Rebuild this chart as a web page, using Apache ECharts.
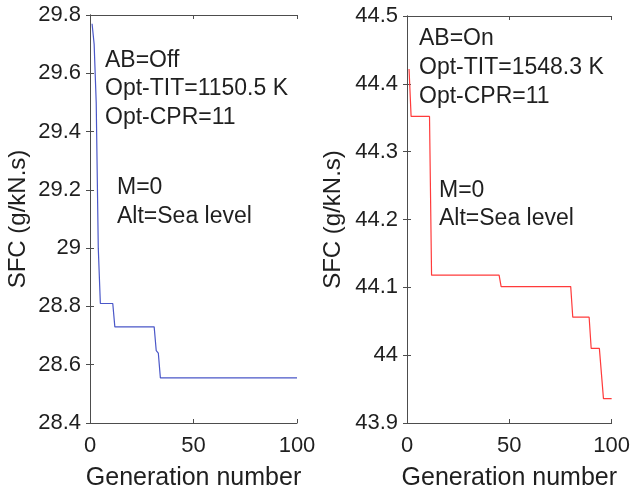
<!DOCTYPE html>
<html>
<head>
<meta charset="utf-8">
<script src="https://cdn.jsdelivr.net/npm/echarts@6/dist/echarts.min.js"></script>
<style>html,body{margin:0;padding:0;background:#fff;}#c{width:633px;height:498px;}</style>
</head>
<body>
<div id="c"></div>
<script>
// Left panel (AB=Off)
const genOff = [1, 2, 3, 4, 5, 11, 12, 31, 32, 33, 34, 100];
const sfcOff = [29.77, 29.7, 29.5, 29.0, 28.81, 28.81, 28.73, 28.73, 28.648, 28.64, 28.555, 28.555];
// Right panel (AB=On)
const genOn = [1, 2, 11, 12, 45, 46, 80, 81, 89, 90, 94, 96, 100];
const sfcOn = [44.422, 44.352, 44.352, 44.118, 44.118, 44.101, 44.101, 44.056, 44.056, 44.01, 44.01, 43.936, 43.936];
const xTicks = [0, 50, 100];
const yTicksOff = [28.4, 28.6, 28.8, 29, 29.2, 29.4, 29.6, 29.8];
const yTicksOn = [43.9, 44, 44.1, 44.2, 44.3, 44.4, 44.5];
const textOff = ["AB=Off", "Opt-TIT=1150.5 K", "Opt-CPR=11"];
const textOff2 = ["M=0", "Alt=Sea level"];
const textOn = ["AB=On", "Opt-TIT=1548.3 K", "Opt-CPR=11"];
const textOn2 = ["M=0", "Alt=Sea level"];
const xName = "Generation number";
const yName = "SFC (g/kN.s)";

const FONT = "Liberation Sans, Arial, Helvetica, sans-serif";
const TXT = "#1f1f1f";
const AX = "#4d4d4d";

function xAxisMain(gi) {
  return {
    type: 'value', gridIndex: gi, min: xTicks[0], max: xTicks[xTicks.length - 1], interval: xTicks[1] - xTicks[0],
    name: xName, nameLocation: 'middle', nameGap: 43,
    nameTextStyle: {fontSize: 25, color: TXT, fontFamily: FONT},
    axisLine: {show: true, lineStyle: {color: AX, width: 1}},
    axisTick: {show: true, inside: true, length: 4, lineStyle: {color: AX}},
    axisLabel: {fontSize: 22, color: TXT, fontFamily: FONT, margin: 12},
    splitLine: {show: false}
  };
}
function xAxisTop(gi) {
  return {
    type: 'value', gridIndex: gi, position: 'top', min: xTicks[0], max: xTicks[xTicks.length - 1], interval: xTicks[1] - xTicks[0],
    axisLine: {show: true, lineStyle: {color: AX, width: 1}},
    axisTick: {show: true, inside: true, length: 4, lineStyle: {color: AX}},
    axisLabel: {show: false}, splitLine: {show: false}
  };
}
function yAxisMain(gi, ticks, gap) {
  const interval = +(ticks[1] - ticks[0]).toFixed(3);
  return {
    type: 'value', gridIndex: gi, min: ticks[0], max: ticks[ticks.length - 1], interval: interval,
    name: yName, nameLocation: 'middle', nameGap: gap,
    nameTextStyle: {fontSize: 24, color: TXT, fontFamily: FONT},
    axisLine: {show: true, lineStyle: {color: AX, width: 1}},
    axisTick: {show: true, inside: true, length: 4, lineStyle: {color: AX}},
    axisLabel: {fontSize: 22, color: TXT, fontFamily: FONT, margin: 9,
      formatter: v => String(+v.toFixed(2))},
    splitLine: {show: false}
  };
}
function yAxisRight(gi, ticks) {
  const interval = +(ticks[1] - ticks[0]).toFixed(3);
  return {
    type: 'value', gridIndex: gi, position: 'right', min: ticks[0], max: ticks[ticks.length - 1], interval: interval,
    axisLine: {show: true, lineStyle: {color: AX, width: 1}},
    axisTick: {show: true, inside: true, length: 4, lineStyle: {color: AX}},
    axisLabel: {show: false}, splitLine: {show: false}
  };
}
function textLines(lines, x, y0, dy) {
  return lines.map((t, i) => ({
    type: 'text', left: x, top: y0 + i * dy,
    style: {text: t, fontSize: 23, fill: TXT, fontFamily: FONT}
  }));
}

const chart = echarts.init(document.getElementById('c'), null, {renderer: 'canvas'});
chart.setOption({
  animation: false,
  backgroundColor: '#fff',
  grid: [
    {left: 90, top: 15, width: 207, height: 408},
    {left: 407, top: 16, width: 206, height: 407}
  ],
  xAxis: [xAxisMain(0), xAxisMain(1), xAxisTop(0), xAxisTop(1)],
  yAxis: [yAxisMain(0, yTicksOff, 60), yAxisMain(1, yTicksOn, 62), yAxisRight(0, yTicksOff), yAxisRight(1, yTicksOn)],
  series: [
    {type: 'line', xAxisIndex: 0, yAxisIndex: 0, showSymbol: false, symbol: 'none',
     lineStyle: {color: '#4a57c8', width: 1.2}, data: genOff.map((g, i) => [g, sfcOff[i]])},
    {type: 'line', xAxisIndex: 1, yAxisIndex: 1, showSymbol: false, symbol: 'none',
     lineStyle: {color: '#ff3b3b', width: 1.2}, data: genOn.map((g, i) => [g, sfcOn[i]])}
  ],
  graphic: [].concat(
    textLines(textOff, 105, 49, 28.5),
    textLines(textOff2, 117, 176, 29),
    textLines(textOn, 419, 27, 29),
    textLines(textOn2, 439, 179, 28.5)
  )
});
</script>
</body>
</html>
